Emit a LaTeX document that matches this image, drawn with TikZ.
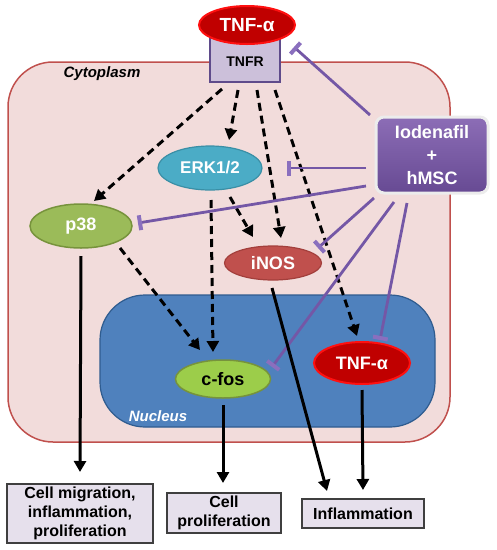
\documentclass[tikz,border=0pt]{standalone}
\usepackage{fontspec}
\setmainfont{Liberation Sans}
\usetikzlibrary{arrows.meta,shapes.geometric}
\definecolor{cytofill}{HTML}{F2DCDB}
\definecolor{cytoline}{HTML}{C0504D}
\definecolor{nucfill}{HTML}{4F81BD}
\definecolor{nucline}{HTML}{2F5C8F}
\definecolor{tnfred}{HTML}{C00000}
\definecolor{tnfline}{HTML}{FF1010}
\definecolor{tnfrfill}{HTML}{CCC0DA}
\definecolor{tnfrline}{HTML}{5F4B8B}
\definecolor{erkfill}{HTML}{4BACC6}
\definecolor{erkline}{HTML}{3A8FA6}
\definecolor{p38fill}{HTML}{9BBB59}
\definecolor{greenline}{HTML}{77933C}
\definecolor{cfosfill}{HTML}{9CCD4A}
\definecolor{inosfill}{HTML}{C0504D}
\definecolor{inosline}{HTML}{A33F3C}
\definecolor{outfill}{HTML}{E6E0EC}
\definecolor{outline}{HTML}{3F3F3F}
\definecolor{inhib}{HTML}{7457A6}
\definecolor{inhibbar}{HTML}{8A6FBE}
\definecolor{boxtop}{HTML}{8C6DB6}
\definecolor{boxbot}{HTML}{674A93}
\begin{document}
\begin{tikzpicture}[x=1pt,y=-1pt,
  fs/.style={font=\bfseries\fontsize{#1}{#1}\selectfont},
  oval/.style={ellipse, inner sep=0pt, line width=1.5pt},
  outbox/.style={draw=outline, fill=outfill, line width=1.5pt, inner sep=0pt, align=center, font=\bfseries\fontsize{16}{19}\selectfont},
  dasharrow/.style={line width=3pt, dash pattern=on 8pt off 5pt, -{Triangle[length=11pt,width=12pt]}},
  solidarrow/.style={line width=3pt, -{Triangle[length=11pt,width=12pt]}},
  inhibline/.style={draw=inhib, line width=2.8pt, -{Bar[width=15pt,line width=4pt,color=inhibbar]}}
]
\useasboundingbox (0,0) rectangle (497,550);
% compartments
\node[draw=cytoline, fill=cytofill, line width=1.5pt, rounded corners=45pt,
      minimum width=442pt, minimum height=380pt, inner sep=0pt] (cyto) at (229,252) {};
\node[draw=nucline, fill=nucfill, line width=1.2pt, rounded corners=45pt,
      minimum width=335pt, minimum height=132pt, inner sep=0pt] (nuc) at (267.5,361) {};
\node[font=\bfseries\itshape\fontsize{15}{15}\selectfont] (cytolab) at (102,74) {Cytoplasm};
\node[text=white, font=\bfseries\itshape\fontsize{15}{15}\selectfont] (nuclab) at (158,416) {Nucleus};
% receptor and ligand
\node[draw=tnfrline, fill=tnfrfill, line width=1.5pt, minimum width=70pt, minimum height=44pt, inner sep=0pt, fs=14] (tnfr) at (245,60) {};
\node[fs=14] (tnfrlab) at (245,62) {TNFR};
\node[oval, draw=tnfline, fill=tnfred, line width=2pt, minimum width=96pt, minimum height=38pt, text=white, fs=19] (tnftop) at (247,25) {TNF-α};
% treatment
\node[draw=white!85!gray, line width=3pt, rounded corners=8pt, top color=boxtop, bottom color=boxbot,
      minimum width=112pt, minimum height=76pt, inner sep=0pt, text=white, align=center,
      font=\bfseries\fontsize{18}{23}\selectfont] (msc) at (432,155) {Iodenafil\\+\\hMSC};
% signalling molecules
\node[oval, draw=erkline, fill=erkfill, line width=1.2pt, minimum width=104pt, minimum height=44pt, text=white, fs=17] (erk) at (210,168) {ERK1/2};
\node[oval, draw=greenline, fill=p38fill, minimum width=102pt, minimum height=44pt, text=white, fs=18] (p38) at (81,226) {p38};
\node[oval, draw=inosline, fill=inosfill, line width=1.2pt, minimum width=97pt, minimum height=34pt, text=white, fs=18] (inos) at (273,263) {iNOS};
\node[oval, draw=greenline, fill=cfosfill, minimum width=95pt, minimum height=38pt, text=black, fs=18] (cfos) at (223,379) {c-fos};
\node[oval, draw=tnfline, fill=tnfred, line width=2pt, minimum width=96pt, minimum height=42pt, text=white, fs=18] (tnfnuc) at (362,363) {TNF-α};
% outcomes
\node[outbox, minimum width=146pt, minimum height=59pt] (out1) at (80,513.5) {Cell migration,\\inflammation,\\proliferation};
\node[outbox, minimum width=114pt, minimum height=40pt] (out2) at (224,513) {Cell\\proliferation};
\node[outbox, minimum width=122pt, minimum height=29pt] (out3) at (363,513.5) {Inflammation};
% dashed activation arrows
\draw[dasharrow] ([shift={(-23,29)}]tnfr.center) -- ([shift={(13,-25)}]p38.center);
\draw[dasharrow] ([shift={(-7,30)}]tnfr.center) -- ([shift={(19,-28)}]erk.center);
\draw[dasharrow] ([shift={(12,30)}]tnfr.center) -- ([shift={(8,-25)}]inos.center);
\draw[dasharrow] ([shift={(30,30)}]tnfr.center) -- ([shift={(-5,-27)}]tnfnuc.center);
\draw[dasharrow] ([shift={(20,29)}]erk.center) -- ([shift={(-20,-26)}]inos.center);
\draw[dasharrow] ([shift={(1,32)}]erk.center) -- ([shift={(-10,-27)}]cfos.center);
\draw[dasharrow] ([shift={(39,22)}]p38.center) -- ([shift={(-23,-29)}]cfos.center);
% inhibition lines
\draw[inhibline] ([shift={(-62,-40)}]msc.center) -- ([shift={(49,-13)}]tnfr.center);
\draw[inhibline] ([shift={(-66,13)}]msc.center) -- ([shift={(77,0)}]erk.center);
\draw[inhibline] ([shift={(-66,31)}]msc.center) -- ([shift={(57,-3)}]p38.center);
\draw[inhibline] ([shift={(-58,43)}]msc.center) -- ([shift={(45,-15)}]inos.center);
\draw[inhibline] ([shift={(-38,47)}]msc.center) -- ([shift={(49,-12)}]cfos.center);
\draw[inhibline] ([shift={(-25,48)}]msc.center) -- ([shift={(18,-23)}]tnfnuc.center);
% outcome arrows
\draw[solidarrow] ([shift={(0,30)}]p38.center) -- ([shift={(0,-41.5)}]out1.center);
\draw[solidarrow] ([shift={(0,26)}]cfos.center) -- ([shift={(-1,-30)}]out2.center);
\draw[solidarrow] ([shift={(-1,25)}]inos.center) -- ([shift={(-36,-22.5)}]out3.center);
\draw[solidarrow] ([shift={(0,27)}]tnfnuc.center) -- ([shift={(0,-23.5)}]out3.center);
\end{tikzpicture}
\end{document}
